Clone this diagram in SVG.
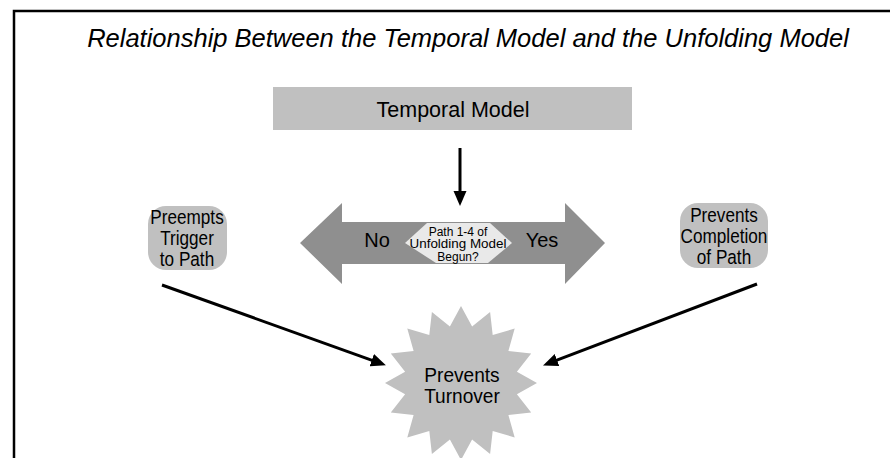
<svg xmlns="http://www.w3.org/2000/svg" width="890" height="458" viewBox="0 0 890 458">
<style>
text{font-family:"Liberation Sans",Arial,sans-serif;fill:#000;text-anchor:middle}
.box{fill:#c0c0c0}
.lbl{font-size:19.5px}
.small{font-size:12px}
.con{stroke:#000;stroke-width:3;fill:none}
</style>
<defs>
<marker id="ah" markerUnits="userSpaceOnUse" markerWidth="16" markerHeight="14" refX="10" refY="6.5" orient="auto">
<path d="M0,0 L15,6.5 L0,13 z" fill="#000"/>
</marker>
</defs>
<rect width="890" height="458" fill="#fff"/>
<path d="M14,458 L14,11 L890,11" fill="none" stroke="#000" stroke-width="2.5"/>
<text x="468" y="47" font-size="25.5" font-style="italic">Relationship Between the Temporal Model and the Unfolding Model</text>
<g id="temporal">
<rect class="box" x="273" y="87" width="359" height="43"/>
<text x="453" y="116.5" font-size="21.5">Temporal Model</text>
</g>
<g id="decision">
<polygon points="300,243 342,203 342,222 565,222 565,203 605,243 565,284 565,264 342,264 342,284" fill="#8f8f8f"/>
<polygon points="405,243 427,223 490,223 512,243 488,263 436,263" fill="#e9e9e9"/>
<text x="377" y="247" font-size="20">No</text>
<text x="542" y="247" font-size="20">Yes</text>
<text class="small" x="458" y="235.5">Path 1-4 of</text>
<text class="small" x="458" y="248" textLength="97" lengthAdjust="spacingAndGlyphs">Unfolding Model</text>
<text class="small" x="458" y="260.5">Begun?</text>
</g>
<g id="preempts">
<rect class="box" x="148" y="206" width="79" height="64" rx="18"/>
<g transform="translate(187,0) scale(0.88,1)">
<text class="lbl" x="0" y="224">Preempts</text>
<text class="lbl" x="0" y="245">Trigger</text>
<text class="lbl" x="0" y="266">to Path</text>
</g>
</g>
<g id="completion">
<rect class="box" x="680" y="203" width="88" height="65" rx="18"/>
<g transform="translate(724,0) scale(0.88,1)">
<text class="lbl" x="0" y="222">Prevents</text>
<text class="lbl" x="0" y="243">Completion</text>
<text class="lbl" x="0" y="264">of Path</text>
</g>
</g>
<g id="turnover">
<polygon class="box" points="461,306 472.1,326.4 490.1,311.9 492.7,335 514.7,328.5 508.4,350.9 531.2,353.5 516.9,371.7 537,383 516.9,394.3 531.2,412.5 508.4,415.1 514.7,437.5 492.7,431 490.1,454.1 472.1,439.6 461,460 449.9,439.6 431.9,454.1 429.3,431 407.3,437.5 413.6,415.1 390.8,412.5 405.1,394.3 385,383 405.1,371.7 390.8,353.5 413.6,350.9 407.3,328.5 429.3,335 431.9,311.9 449.9,326.4"/>
<g transform="translate(462,0) scale(0.91,1)">
<text x="0" y="382" font-size="21">Prevents</text>
<text x="0" y="403" font-size="21">Turnover</text>
</g>
</g>
<g id="connectors">
<line class="con" x1="460" y1="148" x2="460" y2="201" marker-end="url(#ah)" stroke-width="3.5"/>
<line class="con" x1="162" y1="285" x2="381.2" y2="363.6" marker-end="url(#ah)"/>
<line class="con" x1="757" y1="284" x2="547.7" y2="363.6" marker-end="url(#ah)"/>
</g>
</svg>
